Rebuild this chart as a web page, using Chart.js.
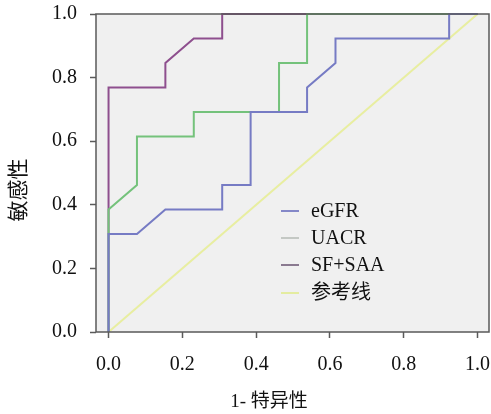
<!DOCTYPE html>
<html>
<head>
<meta charset="utf-8">
<script src="https://cdn.jsdelivr.net/npm/chart.js@4.4.1/dist/chart.umd.min.js"></script>
<style>
html,body{margin:0;padding:0;background:#fff;}
#wrap{width:491px;height:414px;}
</style>
</head>
<body>
<div id="wrap"><canvas id="c" width="491" height="414"></canvas></div>
<script>
const seriesNames = ['eGFR', 'UACR', 'SF+SAA', '参考线'];
const eGFR_x = [0, 0, 0.077, 0.154, 0.308, 0.308, 0.385, 0.385, 0.538, 0.538, 0.615, 0.615, 0.923, 0.923, 1];
const eGFR_y = [0, 0.308, 0.308, 0.385, 0.385, 0.462, 0.462, 0.692, 0.692, 0.769, 0.846, 0.923, 0.923, 1, 1];
const UACR_x = [0, 0, 0.077, 0.077, 0.231, 0.231, 0.462, 0.462, 0.538, 0.538, 1];
const UACR_y = [0, 0.385, 0.462, 0.615, 0.615, 0.692, 0.692, 0.846, 0.846, 1, 1];
const SFSAA_x = [0, 0, 0.154, 0.154, 0.231, 0.308, 0.308, 1];
const SFSAA_y = [0, 0.769, 0.769, 0.846, 0.923, 0.923, 1, 1];
const ref_x = [0, 1];
const ref_y = [0, 1];
const tickValues = [0, 0.2, 0.4, 0.6, 0.8, 1.0];
const xTitle = '1- 特异性';
const yTitle = '敏感性';

const colors = ['#767bc4', '#74c27b', '#8e4f8e', '#e8eea0'];
const legendColors = ['#8488c8', '#c4c8c4', '#8a7a90', '#e4eca0'];
const FONT = "'Liberation Serif', 'Noto Sans CJK SC', serif";

function pts(xs, ys) { return xs.map((x, i) => ({x: x, y: ys[i]})); }

const sets = [pts(eGFR_x, eGFR_y), pts(UACR_x, UACR_y), pts(SFSAA_x, SFSAA_y), pts(ref_x, ref_y)];

const decor = {
  id: 'decor',
  beforeDraw(chart) {
    const a = chart.chartArea, ctx = chart.ctx;
    ctx.save();
    ctx.fillStyle = '#f0f0f0';
    ctx.fillRect(a.left, a.top, a.right - a.left, a.bottom - a.top);
    ctx.restore();
  },
  afterDatasetsDraw(chart) {
    const a = chart.chartArea, ctx = chart.ctx;
    ctx.save();
    ctx.strokeStyle = '#5a5a5a';
    ctx.lineWidth = 1.5;
    ctx.strokeRect(a.left, a.top, a.right - a.left, a.bottom - a.top);
    ctx.restore();
  },
  afterDraw(chart) {
    const ctx = chart.ctx;
    ctx.save();
    const rows = [211, 238, 265, 293];
    ctx.font = "20px " + FONT;
    ctx.textBaseline = 'middle';
    ctx.textAlign = 'left';
    chart.data.datasets.forEach((ds, i) => {
      ctx.strokeStyle = legendColors[i];
      ctx.lineWidth = 2;
      ctx.beginPath();
      ctx.moveTo(281, rows[i]);
      ctx.lineTo(299, rows[i]);
      ctx.stroke();
      ctx.fillStyle = '#111';
      ctx.fillText(ds.label, 311, rows[i] + 1);
    });
    ctx.fillStyle = '#111';
    ctx.font = "19px " + FONT;
    ctx.textAlign = 'center';
    ctx.fillText(xTitle, 269, 402);
    ctx.translate(19, 190);
    ctx.rotate(-Math.PI / 2);
    ctx.font = "21px " + FONT;
    ctx.fillText(yTitle, 0, 0);
    ctx.restore();
  }
};

new Chart(document.getElementById('c'), {
  type: 'line',
  data: {
    datasets: sets.map((d, i) => ({
      label: seriesNames[i],
      data: d,
      borderColor: colors[i],
      borderWidth: 2,
      pointRadius: 0,
      tension: 0,
      fill: false,
      clip: false
    }))
  },
  options: {
    responsive: false,
    animation: false,
    devicePixelRatio: 1,
    layout: {padding: {top: 14, right: 2, left: 0, bottom: 0}},
    plugins: {legend: {display: false}, tooltip: {enabled: false}},
    scales: {
      x: {
        type: 'linear',
        min: -0.034,
        max: 1.031,
        afterBuildTicks(s) { s.ticks = tickValues.map(v => ({value: v})); },
        afterFit(s) { s.height = 82; s.paddingLeft = 0; s.paddingRight = 0; },
        grid: {display: true, drawOnChartArea: false, drawTicks: true, tickLength: 6, tickColor: '#5a5a5a', tickWidth: 1.5},
        border: {display: false},
        ticks: {color: '#111', padding: 15, maxRotation: 0, font: {family: FONT, size: 20}, callback: v => v.toFixed(1)}
      },
      y: {
        type: 'linear',
        min: 0,
        max: 1,
        afterBuildTicks(s) { s.ticks = tickValues.map(v => ({value: v})); },
        afterFit(s) { s.width = 96; s.paddingTop = 0; s.paddingBottom = 0; },
        grid: {display: true, drawOnChartArea: false, drawTicks: true, tickLength: 6, tickColor: '#5a5a5a', tickWidth: 1.5},
        border: {display: false},
        ticks: {color: '#111', padding: 13, font: {family: FONT, size: 20}, callback: v => v.toFixed(1)}
      }
    }
  },
  plugins: [decor]
});
</script>
</body>
</html>
